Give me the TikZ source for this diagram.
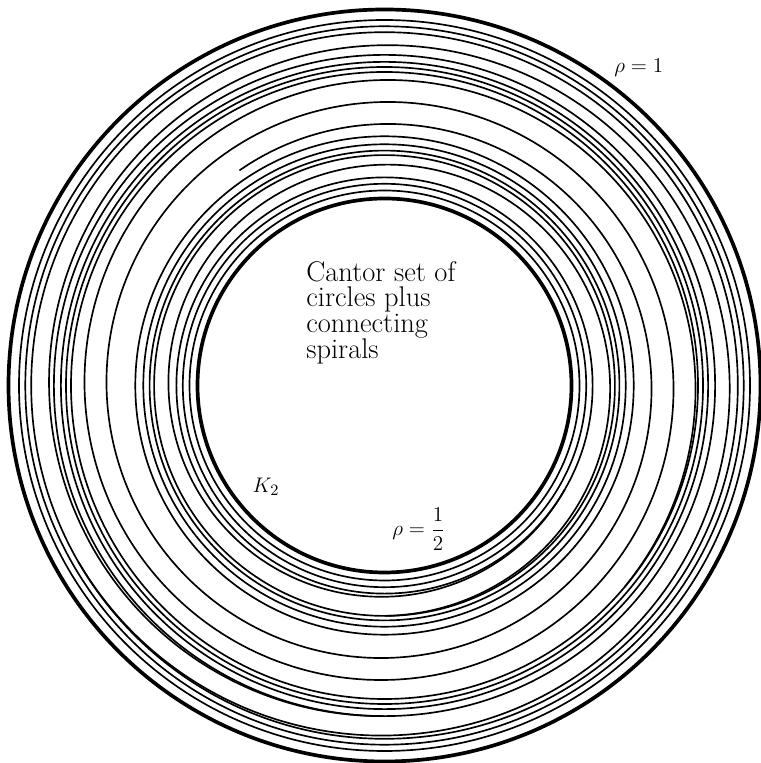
\documentclass[tikz,border=0pt]{standalone}
\begin{document}
\begin{tikzpicture}[x=0.02cm,y=0.02cm,
  ring/.style={line width=0.95pt},
  boldring/.style={line width=2.1pt},
  caption/.style={font=\fontsize{16.2}{14.6}\selectfont, align=left, inner sep=0pt},
  mathlabel/.style={font=\fontsize{12}{14}\selectfont, inner sep=0pt}]
\useasboundingbox (0,0) rectangle (760,763);
\coordinate (O) at (384.5,377.5);
% Cantor set of circles
\foreach \r in {195,201.7,208.1,230.4,234.9,241.2,249.2,313.5,318.5,323.6,330.6,353.3,359.2,365.5}
  \draw[ring] (O) circle[radius=\r];
\draw[boldring] (O) circle[radius=187];
\draw[boldring] (O) circle[radius=376];
% connecting spirals
\begin{scope}[shift={(O)}]
  \draw[ring] plot[domain=-40:844,samples=361,smooth] (\x:{311-0.0611*\x});
  \draw[ring] plot[domain=-90:330,samples=200,smooth] (\x:{230.4-0.053095*(\x+90)});
  \draw[ring] plot[domain=-150:270,samples=200,smooth] (\x:{353.3-0.054048*(\x+150)});
\end{scope}
% labels
\node[caption, anchor=north west] (cap) at (306,502) {Cantor set of\\circles plus\\connecting\\spirals};
\node[mathlabel, anchor=west] (rho1) at (614,695) {$\rho=1$};
\node[mathlabel, anchor=west] (rhohalf) at (392,234) {$\displaystyle\rho=\frac{1}{2}$};
\node[mathlabel, font=\fontsize{13}{15}\selectfont] (k2) at (266,276) {$K_2$};
\end{tikzpicture}
\end{document}
